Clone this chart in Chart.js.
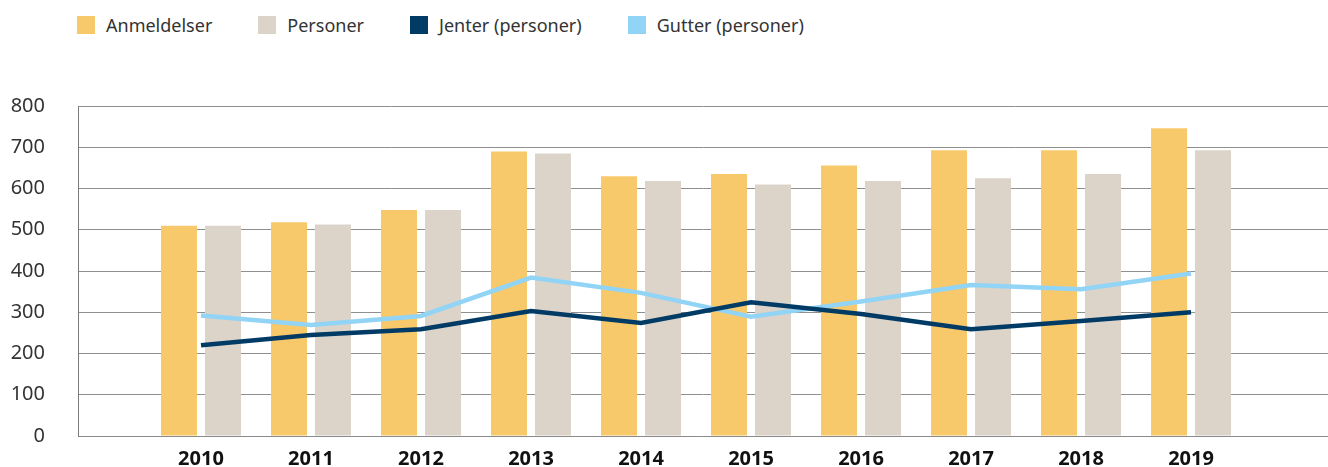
<!DOCTYPE html>
<html lang="no">
<head>
<meta charset="utf-8">
<title>Anmeldelser og personer 2010–2019</title>
<script src="https://cdn.jsdelivr.net/npm/chart.js@4.4.1/dist/chart.umd.min.js"></script>
<style>
  html, body { margin: 0; padding: 0; background: #fff; }
  body { width: 1328px; height: 467px; position: relative; overflow: hidden; font-family: "Noto Sans", sans-serif; }
  #legend { position: absolute; left: 77px; top: 14px; display: flex; gap: 46px; color: #333; font-size: 18px; }
  #legend .item { display: flex; align-items: center; gap: 11px; height: 22px; }
  #legend .sw { width: 18px; height: 18px; display: inline-block; }
  #chart { position: absolute; left: 0; top: 0; }
</style>
</head>
<body>
<div id="legend"></div>
<canvas id="chart" width="1328" height="467"></canvas>
<script>
(() => {
  "use strict";

  // ======= Data =======
  const YEARS = [2010, 2011, 2012, 2013, 2014, 2015, 2016, 2017, 2018, 2019];
  const ANMELDELSER = [510, 518, 548, 690, 630, 635, 656, 693, 693, 746];
  const PERSONER    = [510, 513, 548, 685, 618, 610, 618, 625, 635, 693];
  const JENTER      = [220, 245, 259, 303, 274, 324, 296, 259, 279, 300];
  const GUTTER      = [292, 269, 291, 384, 347, 289, 326, 366, 356, 394];
  const Y_TICKS = [0, 100, 200, 300, 400, 500, 600, 700, 800];

  const COLORS = {
    anm: "#F8C96A",
    pers: "#DCD3C9",
    jenter: "#003B66",
    gutter: "#92D4F5"
  };
  const FONT = "'Noto Sans', sans-serif";

  const pts = vals => vals.map((v, i) => ({ x: YEARS[i], y: v }));

  const datasets = [
    { type: "bar", label: "Anmeldelser", data: pts(ANMELDELSER), backgroundColor: COLORS.anm, order: 3,
      categoryPercentage: 0.8, barPercentage: 0.818 },
    { type: "bar", label: "Personer", data: pts(PERSONER), backgroundColor: COLORS.pers, order: 3,
      categoryPercentage: 0.8, barPercentage: 0.818 },
    { type: "line", label: "Jenter (personer)", data: pts(JENTER), borderColor: COLORS.jenter,
      backgroundColor: COLORS.jenter, borderWidth: 4.5, pointRadius: 0, tension: 0, order: 0 },
    { type: "line", label: "Gutter (personer)", data: pts(GUTTER), borderColor: COLORS.gutter,
      backgroundColor: COLORS.gutter, borderWidth: 4.5, pointRadius: 0, tension: 0, order: 1 }
  ];

  // HTML legend in the original order
  const legend = document.getElementById("legend");
  datasets.forEach(d => {
    const item = document.createElement("span");
    item.className = "item";
    const sw = document.createElement("span");
    sw.className = "sw";
    sw.style.background = d.backgroundColor;
    const txt = document.createElement("span");
    txt.textContent = d.label;
    item.append(sw, txt);
    legend.appendChild(item);
  });

  new Chart(document.getElementById("chart"), {
    data: { datasets },
    options: {
      responsive: false,
      animation: false,
      layout: { padding: { top: 106, right: 0, bottom: 0, left: 0 } },
      plugins: { legend: { display: false }, tooltip: { enabled: false } },
      scales: {
        x: {
          type: "linear",
          offset: false,
          min: 2008.882,
          max: 2020.245,
          afterBuildTicks: s => { s.ticks = YEARS.map(v => ({ value: v })); },
          afterFit: s => { s.height = 31; },
          grid: { display: false, drawTicks: false },
          border: { display: true, color: "#8a8a8a", width: 1 },
          ticks: {
            padding: 11,
            color: "#111",
            font: { family: FONT, size: 20, weight: "bold" },
            callback: v => String(v),
            maxRotation: 0,
            autoSkip: false
          }
        },
        y: {
          min: 0,
          max: 800,
          afterBuildTicks: s => { s.ticks = Y_TICKS.map(v => ({ value: v })); },
          afterFit: s => { s.width = 78; },
          // invisible tick marks push the labels left without adding bottom padding
          grid: { color: "#8f8f8f", lineWidth: 1, drawTicks: true, tickLength: 30, tickColor: "rgba(0,0,0,0)" },
          border: { display: true, color: "#7a7a7a", width: 1 },
          ticks: {
            padding: 3,
            color: "#333",
            font: { family: FONT, size: 20 }
          }
        }
      }
    }
  });
})();
</script>
</body>
</html>
